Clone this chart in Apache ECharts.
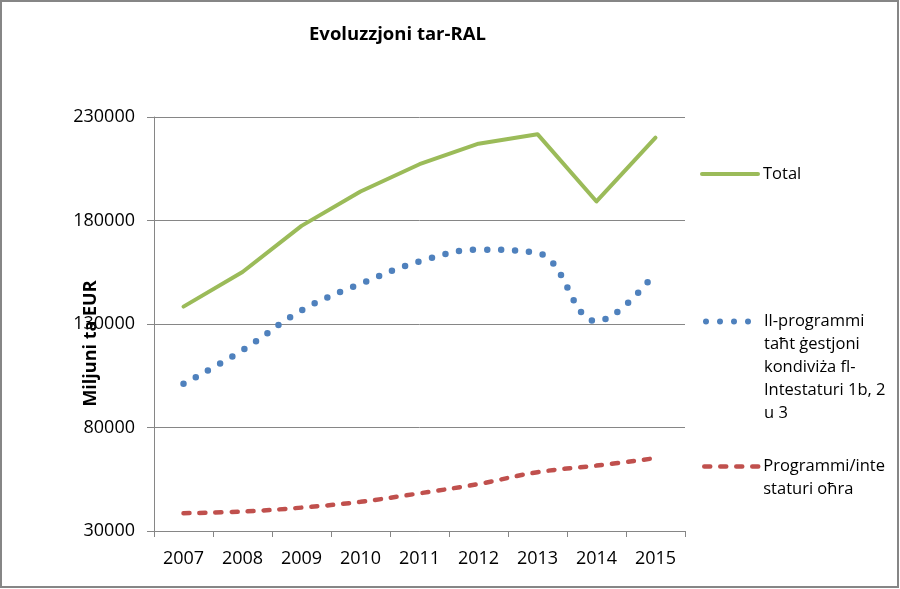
<!DOCTYPE html>
<html>
<head>
<meta charset="utf-8">
<script src="https://cdn.jsdelivr.net/npm/echarts@6/dist/echarts.min.js"></script>
<style>
  html, body { margin: 0; padding: 0; background: #fff; }
  #chart { width: 900px; height: 589px; }
</style>
</head>
<body>
<div id="chart"></div>
<script>
// ---- Data ----
const categories = ['2007', '2008', '2009', '2010', '2011', '2012', '2013', '2014', '2015'];
const totalValues = [138400, 155100, 177400, 194000, 207200, 217100, 221700, 189200, 220000];
const sharedMgmtValues = [101100, 117300, 136600, 149400, 160200, 165900, 164300, 131300, 154800];
const otherValues = [38600, 39400, 41300, 44100, 48200, 52700, 58400, 61600, 65200];
const yTickValues = [30000, 80000, 130000, 180000, 230000];

const titleText = 'Evoluzzjoni tar-RAL';
const yAxisTitle = 'Miljuni ta EUR';
const nameTotal = 'Total';
const nameShared = 'Il-programmi\ntaħt ġestjoni\nkondiviża fl-\nIntestaturi 1b, 2\nu 3';
const nameOther = 'Programmi/inte\nstaturi oħra';

const FONT = '"Open Sans", "Liberation Sans", sans-serif';
const GRID = '#868686';

const chart = echarts.init(document.getElementById('chart'), null, { renderer: 'canvas' });

function legendFor(name, top, lineStyle) {
  const lines = name.split('\n').length;
  return {
    data: [name],
    left: 700,
    top: top,
    orient: 'vertical',
    padding: 0,
    itemWidth: 56,
    itemHeight: 14,
    itemGap: 0,
    selectedMode: false,
    // leading blank lines keep the first text line level with the icon
    formatter: function (n) { return '\n'.repeat(lines - 1) + n; },
    itemStyle: { color: 'transparent', borderColor: 'transparent', borderWidth: 0, opacity: 0 },
    lineStyle: lineStyle,
    textStyle: {
      fontFamily: FONT,
      fontSize: 16.5,
      color: '#000',
      lineHeight: 23
    }
  };
}

chart.setOption({
  animation: false,
  backgroundColor: '#fff',
  title: {
    text: titleText,
    left: 304,
    top: 20,
    textStyle: { fontFamily: FONT, fontSize: 18.5, fontWeight: 'bold', color: '#000' }
  },
  graphic: [{
    type: 'rect',
    shape: { x: 1, y: 1, width: 897, height: 586 },
    style: { fill: null, stroke: '#868686', lineWidth: 2 },
    silent: true
  }],
  legend: [
    legendFor(nameTotal, 162.5, { color: '#9BBB59', width: 4, type: 'solid', cap: 'round' }),
    legendFor(nameShared, 218, { color: '#4F81BD', width: 6, type: [0, 14], cap: 'round', dashOffset: -3 }),
    legendFor(nameOther, 432, { color: '#C0504D', width: 4.5, type: [6, 10], cap: 'round', dashOffset: -2 })
  ],
  grid: { left: 154, right: 215, top: 117, bottom: 58, containLabel: false },
  xAxis: {
    type: 'category',
    data: categories,
    boundaryGap: true,
    axisLine: { show: true, lineStyle: { color: GRID, width: 1 } },
    axisTick: { show: true, length: 6, lineStyle: { color: GRID } },
    axisLabel: { fontFamily: FONT, fontSize: 18, color: '#000', margin: 19 },
    splitLine: { show: false }
  },
  yAxis: {
    type: 'value',
    min: yTickValues[0],
    max: yTickValues[yTickValues.length - 1],
    interval: yTickValues[1] - yTickValues[0],
    name: yAxisTitle,
    nameLocation: 'middle',
    nameGap: 54,
    nameMoveOverlap: false,
    nameTextStyle: {
      fontFamily: FONT, fontSize: 18, fontWeight: 'bold', color: '#000',
      padding: [0, 39, 0, 0]
    },
    axisLine: { show: true, lineStyle: { color: GRID, width: 1 } },
    axisTick: { show: true, length: 7, lineStyle: { color: GRID } },
    axisLabel: {
      fontFamily: FONT, fontSize: 18, color: '#000', margin: 19,
      formatter: function (v) { return String(v); }
    },
    splitLine: { show: true, lineStyle: { color: GRID, width: 1 } }
  },
  series: [
    {
      name: nameTotal,
      type: 'line',
      data: totalValues,
      symbol: 'none',
      smooth: false,
      lineStyle: { color: '#9BBB59', width: 4, cap: 'round', join: 'round' },
      itemStyle: { color: '#9BBB59' },
      z: 3
    },
    {
      name: nameShared,
      type: 'line',
      data: sharedMgmtValues,
      symbol: 'none',
      smooth: 0.4,
      lineStyle: { color: '#4F81BD', width: 6.5, type: [0, 14], cap: 'round' },
      itemStyle: { color: '#4F81BD' },
      z: 2
    },
    {
      name: nameOther,
      type: 'line',
      data: otherValues,
      symbol: 'none',
      smooth: 0.4,
      lineStyle: { color: '#C0504D', width: 4.5, type: [6, 10], cap: 'round' },
      itemStyle: { color: '#C0504D' },
      z: 2
    }
  ]
});
</script>
</body>
</html>
